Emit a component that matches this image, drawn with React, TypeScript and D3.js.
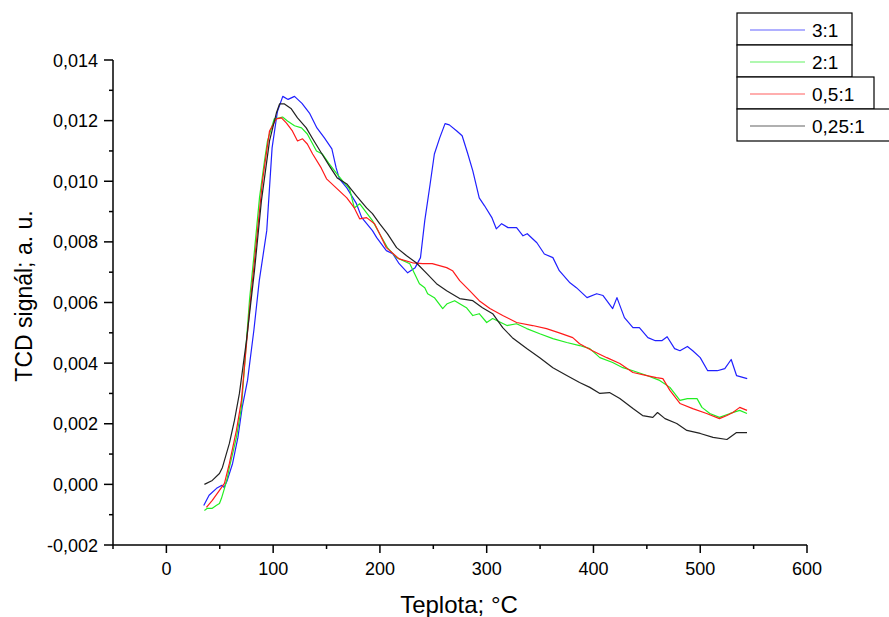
import React from "react";
import * as d3 from "d3";

// Temperature (°C) and TCD signal (a.u.) for each sample ratio
const seriesNames = ["3:1", "2:1", "0,5:1", "0,25:1"];
const seriesColors = ["#2020ff", "#22ee22", "#ff1a1a", "#222222"];

const blueT = [35, 40, 47, 52, 54, 57, 62, 67, 71, 76, 82, 87, 94, 99, 104, 109, 114, 120, 127, 134, 141, 148, 155, 159, 162, 169, 178, 183, 193, 197, 206, 212, 218, 226, 233, 238, 242, 247, 251, 256, 261, 265, 272, 277, 282, 287, 293, 298, 305, 309, 314, 320, 328, 334, 338, 347, 354, 362, 368, 378, 384, 394, 403, 409, 418, 422, 429, 437, 443, 451, 458, 464, 469, 476, 481, 488, 493, 500, 507, 516, 523, 529, 534, 544];
const blueV = [-0.7, -0.36, -0.13, -0.03, -0.1, 0.13, 0.69, 1.55, 2.54, 3.43, 5.1, 6.72, 8.37, 11.1, 12.3, 12.8, 12.7, 12.8, 12.57, 12.25, 11.76, 11.43, 11.07, 10.44, 10.08, 9.78, 9.26, 8.8, 8.37, 8.14, 7.71, 7.61, 7.28, 6.98, 7.15, 7.48, 8.7, 9.9, 10.9, 11.43, 11.9, 11.86, 11.66, 11.5, 10.94, 10.34, 9.45, 9.19, 8.79, 8.43, 8.6, 8.47, 8.47, 8.2, 8.27, 7.97, 7.6, 7.48, 7.05, 6.65, 6.49, 6.16, 6.29, 6.23, 5.8, 6.16, 5.5, 5.17, 5.17, 4.84, 4.74, 4.74, 4.87, 4.48, 4.41, 4.55, 4.41, 4.18, 3.75, 3.75, 3.82, 4.12, 3.59, 3.49];

const greenT = [35.6, 38.4, 43, 47, 49.7, 51.6, 54.4, 57.2, 59, 65.6, 70.3, 77.8, 82.5, 87.2, 91.9, 94.7, 101, 106, 108.8, 113.4, 120, 126.6, 132, 140.6, 146, 152, 159, 165, 171.6, 176, 181, 187.5, 193, 199.7, 207, 215.6, 228, 232.5, 237, 242, 244.7, 251, 258.8, 263, 270, 274.7, 281, 287, 293, 300, 305.6, 319, 328, 337.5, 349.7, 362, 375, 387, 396.6, 406, 418, 427.5, 437, 450, 462, 471.6, 481, 488, 497, 501.6, 509, 518, 528, 537, 543.8];
const greenV = [-0.86, -0.79, -0.79, -0.69, -0.63, -0.46, -0.13, 0.23, 0.56, 1.55, 2.54, 6.06, 7.71, 9.45, 10.67, 11.33, 12.06, 12.09, 12.12, 11.99, 11.83, 11.76, 11.56, 11.0, 10.9, 10.6, 10.28, 10.01, 9.75, 9.12, 9.26, 8.96, 8.7, 8.27, 7.81, 7.48, 7.28, 6.95, 6.62, 6.49, 6.29, 6.16, 5.8, 5.96, 6.06, 5.96, 5.83, 5.57, 5.63, 5.34, 5.47, 5.24, 5.3, 5.14, 4.97, 4.81, 4.68, 4.58, 4.48, 4.18, 4.02, 3.85, 3.75, 3.59, 3.43, 3.2, 2.77, 2.83, 2.83, 2.54, 2.34, 2.21, 2.34, 2.44, 2.34];

const redT = [37.5, 43, 49.7, 54.4, 59, 65.6, 70.3, 77.8, 84.4, 90, 96.6, 103, 107.8, 112.5, 118, 122.8, 127.5, 132, 137, 145, 150, 159, 169, 176, 181, 187.5, 195, 199.7, 206, 218, 230.6, 240, 249, 262.5, 268, 274.7, 284, 293, 303, 315, 328, 343, 356, 368, 380.6, 387, 399, 412.5, 424.7, 437, 450, 459, 465, 471.6, 481, 493, 506, 518, 525, 530.6, 537, 543.8];
const redV = [-0.76, -0.53, -0.2, 0.03, 0.69, 1.78, 2.77, 5.73, 8.04, 10.01, 11.66, 12.06, 12.09, 11.92, 11.66, 11.33, 11.4, 11.23, 10.9, 10.44, 10.08, 9.78, 9.45, 9.12, 8.76, 8.8, 8.6, 8.27, 7.81, 7.44, 7.31, 7.28, 7.28, 7.15, 7.05, 6.72, 6.39, 6.06, 5.8, 5.57, 5.34, 5.24, 5.14, 5.0, 4.84, 4.64, 4.41, 4.18, 3.99, 3.69, 3.59, 3.52, 3.49, 3.1, 2.67, 2.5, 2.34, 2.17, 2.27, 2.37, 2.54, 2.44];

const blackT = [35.6, 43, 49.7, 52.5, 59, 63.75, 68.4, 75, 82.5, 89, 96.6, 103, 106, 110.6, 117, 122.8, 131, 137, 145, 152.8, 160, 169, 178, 187.5, 193, 199.7, 207, 215.6, 225, 234, 244, 253, 262.5, 274.7, 287, 296, 305.6, 315, 324, 337.5, 349.7, 362, 375, 387, 396.6, 406, 415, 424.7, 437, 446, 455.6, 460, 467, 478, 487.5, 500, 512, 525, 534, 543.8];
const blackV = [0, 0.13, 0.36, 0.56, 1.35, 2.11, 3.0, 4.74, 7.05, 9.35, 11.33, 12.25, 12.55, 12.55, 12.39, 12.09, 11.76, 11.4, 10.94, 10.5, 10.11, 9.91, 9.52, 9.12, 8.93, 8.6, 8.27, 7.81, 7.54, 7.31, 6.95, 6.62, 6.39, 6.13, 6.06, 5.83, 5.63, 5.17, 4.84, 4.48, 4.18, 3.85, 3.59, 3.36, 3.2, 3.0, 3.03, 2.83, 2.5, 2.27, 2.21, 2.37, 2.17, 2.01, 1.78, 1.68, 1.55, 1.48, 1.71, 1.71];

const xTicks = [0, 100, 200, 300, 400, 500, 600];
const yTicks = [-0.002, 0, 0.002, 0.004, 0.006, 0.008, 0.01, 0.012, 0.014];

const W = 889;
const H = 617;
const FONT = "'Liberation Sans', Arial, sans-serif";

export default function App() {
  const x = d3.scaleLinear().domain([-50, 600]).range([113, 807]);
  const y = d3.scaleLinear().domain([-0.002, 0.014]).range([545, 60]);

  const seriesT = [blueT, greenT, redT, blackT];
  const seriesV = [blueV, greenV, redV, blackV];

  const line = d3
    .line<[number, number]>()
    .x((d) => x(d[0]))
    .y((d) => y(d[1] / 1000));

  const fmtY = (v: number) => d3.format(".3f")(v).replace(".", ",").replace("−", "-");

  const xMinor = d3.range(-50, 601, 50);
  const yMinor = d3.range(-0.002, 0.01401, 0.001);

  const legendWidths = [115, 115, 137, 160];

  return (
    <svg width={W} height={H} style={{ position: "absolute", left: 0, top: 0, background: "#fff" }}>
      <rect x={0} y={0} width={W} height={H} fill="#fff" />
      {/* series */}
      {seriesT.map((ts, i) => {
        const pts: [number, number][] = ts.map((t, j) => [t, seriesV[i][j]]);
        return (
          <path
            key={i}
            d={line(pts) || ""}
            fill="none"
            stroke={seriesColors[i]}
            strokeWidth={1.2}
            strokeLinejoin="round"
          />
        );
      })}
      {/* axes */}
      <line x1={113} x2={113} y1={y(0.014)} y2={545} stroke="#000" strokeWidth={1.5} />
      <line x1={113} x2={807} y1={545} y2={545} stroke="#000" strokeWidth={1.5} />
      {xMinor.map((t) => (
        <line
          key={"xm" + t}
          x1={x(t)}
          x2={x(t)}
          y1={545}
          y2={545 + (t % 100 === 0 ? 8 : 4)}
          stroke="#000"
          strokeWidth={1.5}
        />
      ))}
      {yMinor.map((v, i) => (
        <line
          key={"ym" + i}
          x1={113 - (i % 2 === 0 ? 9 : 4)}
          x2={113}
          y1={y(v)}
          y2={y(v)}
          stroke="#000"
          strokeWidth={1.5}
        />
      ))}
      {xTicks.map((t) => (
        <text key={"xt" + t} x={x(t)} y={575} textAnchor="middle" fontFamily={FONT} fontSize={18} fill="#000">
          {t}
        </text>
      ))}
      {yTicks.map((v) => (
        <text
          key={"yt" + v}
          x={98}
          y={y(v) + 6.5}
          textAnchor="end"
          fontFamily={FONT}
          fontSize={18}
          fill="#000"
        >
          {fmtY(v)}
        </text>
      ))}
      <text x={459} y={613} textAnchor="middle" fontFamily={FONT} fontSize={24} fill="#000">
        Teplota; °C
      </text>
      <text
        transform={`translate(32, 296) rotate(-90)`}
        textAnchor="middle"
        fontFamily={FONT}
        fontSize={23}
        fill="#000"
      >
        TCD signál; a. u.
      </text>
      {/* legend */}
      {seriesNames.map((name, i) => {
        const top = 13 + i * 32;
        return (
          <g key={"lg" + i}>
            <rect x={737} y={top} width={legendWidths[i]} height={32} fill="#fff" stroke="#000" strokeWidth={1.2} />
            <line x1={750} x2={805} y1={top + 17} y2={top + 17} stroke={seriesColors[i]} strokeWidth={1.2} opacity={0.7} />
            <text x={812} y={top + 24} fontFamily={FONT} fontSize={19} fill="#000">
              {name}
            </text>
          </g>
        );
      })}
    </svg>
  );
}
